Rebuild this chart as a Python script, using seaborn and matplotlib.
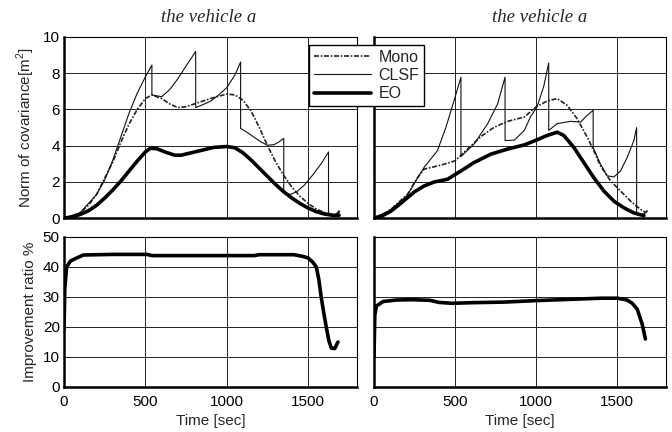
import numpy as np
import pandas as pd
import matplotlib
matplotlib.use("Agg")
import matplotlib.pyplot as plt
import seaborn as sns
from matplotlib.lines import Line2D

# ---- covariance norm, left vehicle ----
left_eo_t = [0, 50, 100, 150, 200, 250, 300, 350, 400, 450, 500, 530, 570, 620, 680, 720, 780, 850, 920,
             1000, 1050, 1100, 1150, 1200, 1250, 1300, 1350, 1400, 1450, 1500, 1550, 1600, 1650, 1690]
left_eo_v = [0, 0.05, 0.2, 0.4, 0.7, 1.1, 1.55, 2.05, 2.6, 3.15, 3.65, 3.85, 3.83, 3.65, 3.47, 3.47, 3.6, 3.75, 3.9,
             3.95, 3.88, 3.6, 3.2, 2.75, 2.3, 1.85, 1.45, 1.1, 0.8, 0.55, 0.35, 0.22, 0.15, 0.15]

left_mono_t = [0, 50, 100, 150, 200, 250, 300, 350, 400, 450, 500, 540, 600, 650, 700, 750, 800, 900,
               1000, 1050, 1100, 1150, 1200, 1250, 1300, 1350, 1400, 1450, 1500, 1550, 1600, 1650, 1680, 1695]
left_mono_v = [0, 0.05, 0.3, 0.7, 1.3, 2.2, 3.1, 4.2, 5.2, 6.0, 6.6, 6.8, 6.6, 6.3, 6.1, 6.15, 6.3, 6.6,
               6.85, 6.8, 6.5, 5.9, 5.0, 4.0, 3.1, 2.35, 1.7, 1.2, 0.8, 0.5, 0.3, 0.2, 0.15, 0.4]

left_clsf_t = [0, 100, 200, 250, 300, 350, 400, 450, 500, 540, 540, 570, 600, 650, 700, 750, 809, 809,
               850, 900, 950, 1000, 1050, 1085, 1085, 1130, 1170, 1210, 1250, 1290, 1320, 1350, 1350,
               1390, 1430, 1480, 1530, 1580, 1625, 1625, 1665, 1690]
left_clsf_v = [0, 0.3, 1.3, 2.1, 3.2, 4.5, 5.8, 6.9, 7.8, 8.45, 6.8, 6.75, 6.7, 7.1, 7.7, 8.4, 9.2, 6.1,
               6.25, 6.45, 6.8, 7.2, 7.9, 8.62, 4.95, 4.7, 4.45, 4.2, 4.02, 4.05, 4.2, 4.4, 1.4,
               1.3, 1.45, 1.85, 2.4, 3.0, 3.65, 0.15, 0.15, 0.4]

# ---- covariance norm, right vehicle ----
right_eo_t = [0, 50, 103, 150, 206, 250, 309, 371, 453, 536, 618, 721, 824, 927, 1005, 1067, 1129, 1170,
              1232, 1293, 1355, 1417, 1479, 1541, 1602, 1664]
right_eo_v = [0, 0.12, 0.37, 0.7, 1.12, 1.45, 1.77, 1.99, 2.14, 2.6, 3.07, 3.53, 3.81, 4.04, 4.32, 4.56, 4.74, 4.56,
              3.9, 3.07, 2.23, 1.49, 0.93, 0.56, 0.28, 0.13]

right_mono_t = [0, 50, 103, 150, 206, 268, 309, 412, 500, 577, 659, 742, 824, 927, 999, 1067, 1129, 1190,
                1252, 1314, 1355, 1396, 1458, 1520, 1582, 1644, 1675, 1690]
right_mono_v = [0, 0.15, 0.47, 0.85, 1.3, 2.23, 2.7, 2.92, 3.16, 3.81, 4.5, 5.02, 5.34, 5.58, 6.14, 6.46, 6.6, 6.23,
                5.49, 4.47, 3.72, 2.88, 2.05, 1.49, 0.93, 0.47, 0.3, 0.45]

right_clsf_t = [0, 103, 206, 268, 309, 391, 443, 494, 536, 536, 618, 700, 762, 808, 808, 865, 927, 964,
                1005, 1046, 1077, 1077, 1129, 1211, 1273, 1314, 1351, 1351, 1396, 1438, 1479, 1520, 1561,
                1602, 1619, 1619, 1660, 1685]
right_clsf_v = [0, 0.45, 1.25, 2.2, 2.8, 3.72, 5.0, 6.5, 7.78, 3.39, 4.1, 5.2, 6.3, 7.78, 4.28, 4.3, 4.84, 5.58,
                6.14, 7.26, 8.56, 4.84, 5.21, 5.34, 5.3, 5.67, 5.95, 3.9, 2.98, 2.33, 2.27, 2.6, 3.35,
                4.28, 4.99, 0.2, 0.2, 0.4]

# ---- improvement ratio ----
left_ratio_t = [0, 5, 16, 40, 78, 119, 300, 510, 540, 800, 1169, 1200, 1413, 1470, 1500, 1530, 1550, 1565,
                1580, 1595, 1611, 1627, 1642, 1663, 1683]
left_ratio_v = [19, 33, 40, 42, 43, 44, 44.2, 44.2, 43.8, 43.8, 43.8, 44.1, 44.1, 43.5, 43, 41.5, 40, 36,
                30, 25, 20, 15.5, 13, 12.8, 15]

right_ratio_t = [0, 5, 15, 56, 138, 240, 344, 400, 480, 600, 800, 1000, 1100, 1300, 1400, 1500, 1560, 1590,
                 1622, 1653, 1673]
right_ratio_v = [10, 24, 27, 28.5, 29, 29.1, 28.9, 28.2, 27.9, 28.1, 28.3, 28.8, 29.0, 29.4, 29.6, 29.6, 29, 28,
                 26, 21, 16]

series_names = ["Mono", "CLSF", "EO"]
xticks = [0, 500, 1000, 1500]
title_text = "the vehicle a"

sns.set_theme(style="white")
plt.rcParams["font.family"] = ["Liberation Sans", "DejaVu Sans"]
plt.rcParams["mathtext.fontset"] = "custom"
plt.rcParams["mathtext.rm"] = "Liberation Sans"

fig = plt.figure(figsize=(6.72, 4.32), dpi=100)
W, H = 672, 432
FS = 11


def add_ax(x0, y0, x1, y1):
    return fig.add_axes([x0 / W, 1 - y1 / H, (x1 - x0) / W, (y1 - y0) / H])


ax_tl = add_ax(64, 37, 357, 218)
ax_tr = add_ax(374, 37, 666, 218)
ax_bl = add_ax(64, 237, 357, 387)
ax_br = add_ax(374, 237, 666, 387)

styles = {
    "Mono": dict(color="#222222", lw=1.2, dashes=(3, 1, 1, 1)),
    "CLSF": dict(color="#111111", lw=0.8, dashes=None),
    "EO": dict(color="#000000", lw=2.6, dashes=None),
}


def draw(ax, t, v, name):
    df = pd.DataFrame({"t": t, "v": v})
    st = styles[name]
    sns.lineplot(data=df, x="t", y="v", ax=ax, estimator=None, sort=False,
                 color=st["color"], lw=st["lw"], zorder=3)
    if st["dashes"] is not None:
        ax.lines[-1].set_dashes(st["dashes"])


draw(ax_tl, left_mono_t, left_mono_v, "Mono")
draw(ax_tl, left_clsf_t, left_clsf_v, "CLSF")
draw(ax_tl, left_eo_t, left_eo_v, "EO")
draw(ax_tr, right_mono_t, right_mono_v, "Mono")
draw(ax_tr, right_clsf_t, right_clsf_v, "CLSF")
draw(ax_tr, right_eo_t, right_eo_v, "EO")
draw(ax_bl, left_ratio_t, left_ratio_v, "EO")
draw(ax_br, right_ratio_t, right_ratio_v, "EO")

for ax in (ax_tl, ax_tr, ax_bl, ax_br):
    ax.set_xlim(0, 1800)
    ax.set_xticks(xticks)
    ax.grid(True, color="#222222", lw=0.7)
    ax.set_axisbelow(True)
    ax.tick_params(length=0, labelsize=FS, colors="black")
    ax.tick_params(axis="x", pad=6)
    ax.tick_params(axis="y", pad=3)
    for side in ("top", "right"):
        ax.spines[side].set_color("black")
        ax.spines[side].set_linewidth(0.8)
    for side in ("left", "bottom"):
        ax.spines[side].set_color("black")
        ax.spines[side].set_linewidth(1.8)
    ax.set_xlabel("")
    ax.set_ylabel("")

for ax in (ax_tl, ax_tr):
    ax.set_ylim(0, 10)
    ax.set_yticks([0, 2, 4, 6, 8, 10])
    ax.set_xticklabels([])
for ax in (ax_bl, ax_br):
    ax.set_ylim(0, 50)
    ax.set_yticks([0, 10, 20, 30, 40, 50])
    ax.set_xticklabels([str(x) for x in xticks])
    ax.set_xlabel("Time [sec]", fontsize=FS, labelpad=3)
for ax in (ax_tr, ax_br):
    ax.set_yticklabels([])

ax_tl.set_ylabel("Norm of covariance[m$^2$]", fontsize=FS, labelpad=4)
ax_bl.set_ylabel("Improvement ratio %", fontsize=FS, labelpad=4)

fig.text(209 / W, 1 - 18 / H, title_text, ha="center", va="center",
         family=["Liberation Serif"], style="italic", fontsize=13.5)
fig.text(540 / W, 1 - 18 / H, title_text, ha="center", va="center",
         family=["Liberation Serif"], style="italic", fontsize=13.5)

handles = []
for name in series_names:
    st = styles[name]
    h = Line2D([], [], color=st["color"], lw=st["lw"])
    if st["dashes"] is not None:
        h.set_dashes(st["dashes"])
    handles.append(h)
leg = fig.legend(handles, series_names, loc="upper left",
                 bbox_to_anchor=(309 / W, 1 - 45 / H), fontsize=FS + 0.5,
                 frameon=True, fancybox=False, framealpha=1, edgecolor="black",
                 handlelength=3.6, handletextpad=0.45, borderpad=0.3, labelspacing=0.2,
                 borderaxespad=0)
leg.get_frame().set_linewidth(1.0)

fig.savefig("out.png", dpi=100)
